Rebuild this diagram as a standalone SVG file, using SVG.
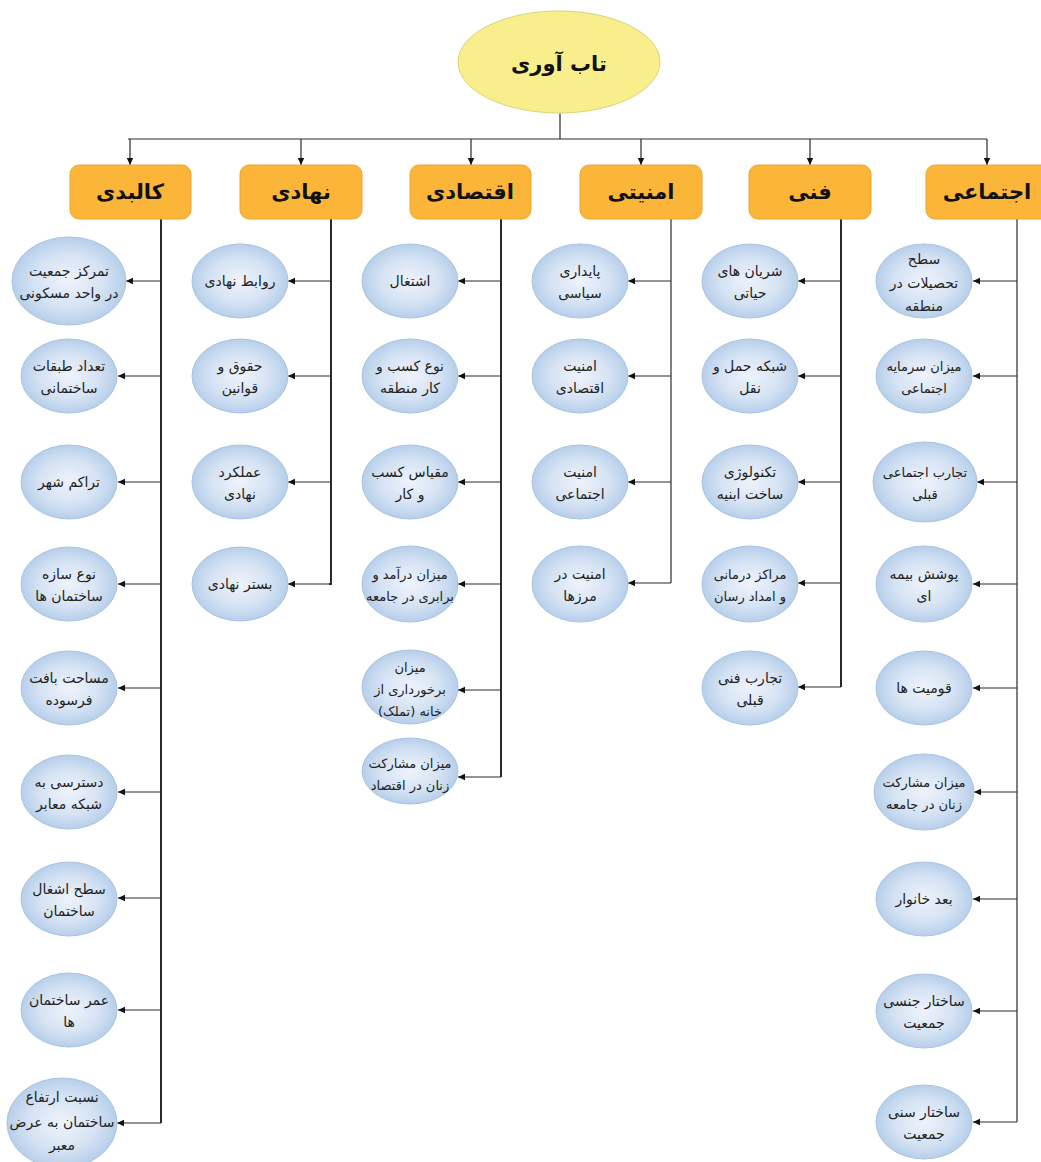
<svg xmlns="http://www.w3.org/2000/svg" width="1041" height="1162" viewBox="0 0 1041 1162">
<defs>
<radialGradient id="gb" cx="50%" cy="50%" r="50%">
<stop offset="0" stop-color="#eef3fb"/>
<stop offset="0.6" stop-color="#d6e3f4"/>
<stop offset="1" stop-color="#b7cfea"/>
</radialGradient>
<marker id="ar" markerUnits="userSpaceOnUse" markerWidth="8" markerHeight="8" refX="7" refY="4" orient="auto">
<path d="M0,0.8 L7,4 L0,7.2 Z" fill="#111"/>
</marker>
<style>
.c{fill:none;stroke:#2a2a2a;stroke-width:1.2}
.t{fill:none;stroke:#2a2a2a;stroke-width:2}
.e{fill:url(#gb);stroke:#a9c3e2;stroke-width:1}
.b{fill:#fbb63a;stroke:#eaa62e;stroke-width:1}
.bt{font-family:"DejaVu Sans",sans-serif;font-weight:bold;font-size:21px;fill:#111;text-anchor:middle}
.lt{font-family:"DejaVu Sans",sans-serif;font-size:14px;fill:#222;text-anchor:middle}
.sm{font-size:13px}
</style>
</defs>
<rect width="1041" height="1162" fill="#fff"/>

<g id="connectors">
<path class="c" d="M560,112 V139 M128,139 H987"/>
<path class="c" marker-end="url(#ar)" d="M130,139 V165"/>
<path class="c" marker-end="url(#ar)" d="M301,139 V165"/>
<path class="c" marker-end="url(#ar)" d="M471,139 V165"/>
<path class="c" marker-end="url(#ar)" d="M641,139 V165"/>
<path class="c" marker-end="url(#ar)" d="M810,139 V165"/>
<path class="c" marker-end="url(#ar)" d="M987,139 V165"/>
<path class="t" d="M161,219 V1123"/>
<path class="t" d="M331,219 V584 H329"/>
<path class="t" d="M501,219 V777"/>
<path class="c" d="M671,219 V583"/>
<path class="t" d="M841,219 V687"/>
<path class="c" d="M1017,219 V1122"/>
<path class="c" marker-end="url(#ar)" d="M161,281 H126"/>
<path class="c" marker-end="url(#ar)" d="M161,376 H118"/>
<path class="c" marker-end="url(#ar)" d="M161,482 H118"/>
<path class="c" marker-end="url(#ar)" d="M161,584 H118"/>
<path class="c" marker-end="url(#ar)" d="M161,688 H118"/>
<path class="c" marker-end="url(#ar)" d="M161,792 H118"/>
<path class="c" marker-end="url(#ar)" d="M161,898 H118"/>
<path class="c" marker-end="url(#ar)" d="M161,1010 H118"/>
<path class="c" marker-end="url(#ar)" d="M161,1123 H117"/>
<path class="c" marker-end="url(#ar)" d="M331,281 H288"/>
<path class="c" marker-end="url(#ar)" d="M331,376 H288"/>
<path class="c" marker-end="url(#ar)" d="M331,482 H288"/>
<path class="c" marker-end="url(#ar)" d="M331,584 H288"/>
<path class="c" marker-end="url(#ar)" d="M501,281 H458"/>
<path class="c" marker-end="url(#ar)" d="M501,376 H458"/>
<path class="c" marker-end="url(#ar)" d="M501,482 H458"/>
<path class="c" marker-end="url(#ar)" d="M501,584 H458"/>
<path class="c" marker-end="url(#ar)" d="M501,690 H458"/>
<path class="c" marker-end="url(#ar)" d="M501,777 H458"/>
<path class="c" marker-end="url(#ar)" d="M671,281 H628"/>
<path class="c" marker-end="url(#ar)" d="M671,376 H628"/>
<path class="c" marker-end="url(#ar)" d="M671,482 H628"/>
<path class="c" marker-end="url(#ar)" d="M671,583 H628"/>
<path class="c" marker-end="url(#ar)" d="M841,281 H798"/>
<path class="c" marker-end="url(#ar)" d="M841,376 H798"/>
<path class="c" marker-end="url(#ar)" d="M841,482 H798"/>
<path class="c" marker-end="url(#ar)" d="M841,583 H798"/>
<path class="c" marker-end="url(#ar)" d="M841,687 H798"/>
<path class="c" marker-end="url(#ar)" d="M1017,281 H973"/>
<path class="c" marker-end="url(#ar)" d="M1017,376 H973"/>
<path class="c" marker-end="url(#ar)" d="M1017,482 H977"/>
<path class="c" marker-end="url(#ar)" d="M1017,584 H973"/>
<path class="c" marker-end="url(#ar)" d="M1017,688 H973"/>
<path class="c" marker-end="url(#ar)" d="M1017,792 H974"/>
<path class="c" marker-end="url(#ar)" d="M1017,899 H973"/>
<path class="c" marker-end="url(#ar)" d="M1017,1011 H973"/>
<path class="c" marker-end="url(#ar)" d="M1017,1122 H973"/>
</g>

<g id="root"><ellipse cx="559" cy="62" rx="101" ry="51" fill="#f8ef8c" stroke="#d8d47a" stroke-width="1"/><text class="bt" x="559" y="71" font-size="25">تاب آوری</text></g>

<g id="cat-kalbadi"><rect class="b" x="70" y="165" width="121" height="54" rx="9"/><text class="bt" x="130" y="199">کالبدی</text></g>
<g id="cat-nahadi"><rect class="b" x="240" y="165" width="122" height="54" rx="9"/><text class="bt" x="301" y="199">نهادی</text></g>
<g id="cat-eqtesadi"><rect class="b" x="410" y="165" width="121" height="54" rx="9"/><text class="bt" x="470" y="199">اقتصادی</text></g>
<g id="cat-amniati"><rect class="b" x="580" y="165" width="122" height="54" rx="9"/><text class="bt" x="641" y="199">امنیتی</text></g>
<g id="cat-fanni"><rect class="b" x="749" y="165" width="122" height="54" rx="9"/><text class="bt" x="810" y="199">فنی</text></g>
<g id="cat-ejtemaei"><rect class="b" x="926" y="165" width="124" height="54" rx="9"/><text class="bt" x="987" y="199">اجتماعی</text></g>

<g id="k1"><ellipse class="e" cx="69" cy="281" rx="57" ry="44"/><text class="lt"><tspan x="69" y="276">تمرکز جمعیت</tspan><tspan x="69" y="298">در واحد مسکونی</tspan></text></g>
<g id="k2"><ellipse class="e" cx="69" cy="376" rx="48" ry="37"/><text class="lt"><tspan x="69" y="371">تعداد طبقات</tspan><tspan x="69" y="393">ساختمانی</tspan></text></g>
<g id="k3"><ellipse class="e" cx="69" cy="482" rx="48" ry="37"/><text class="lt" x="69" y="487">تراکم شهر</text></g>
<g id="k4"><ellipse class="e" cx="69" cy="584" rx="48" ry="37"/><text class="lt"><tspan x="69" y="579">نوع سازه</tspan><tspan x="69" y="601">ساختمان ها</tspan></text></g>
<g id="k5"><ellipse class="e" cx="69" cy="688" rx="48" ry="37"/><text class="lt"><tspan x="69" y="683">مساحت بافت</tspan><tspan x="69" y="705">فرسوده</tspan></text></g>
<g id="k6"><ellipse class="e" cx="69" cy="792" rx="48" ry="37"/><text class="lt"><tspan x="69" y="787">دسترسی به</tspan><tspan x="69" y="809">شبکه معابر</tspan></text></g>
<g id="k7"><ellipse class="e" cx="69" cy="899" rx="48" ry="37"/><text class="lt"><tspan x="69" y="894">سطح اشغال</tspan><tspan x="69" y="916">ساختمان</tspan></text></g>
<g id="k8"><ellipse class="e" cx="69" cy="1010" rx="48" ry="37"/><text class="lt"><tspan x="69" y="1005">عمر ساختمان</tspan><tspan x="69" y="1027">ها</tspan></text></g>
<g id="k9"><ellipse class="e" cx="62" cy="1123" rx="55" ry="45"/><text class="lt"><tspan x="62" y="1102">نسبت ارتفاع</tspan><tspan x="62" y="1127">ساختمان به عرض</tspan><tspan x="62" y="1150">معبر</tspan></text></g>

<g id="n1"><ellipse class="e" cx="240" cy="281" rx="48" ry="37"/><text class="lt" x="240" y="286">روابط نهادی</text></g>
<g id="n2"><ellipse class="e" cx="240" cy="376" rx="48" ry="37"/><text class="lt"><tspan x="240" y="371">حقوق و</tspan><tspan x="240" y="393">قوانین</tspan></text></g>
<g id="n3"><ellipse class="e" cx="240" cy="482" rx="48" ry="37"/><text class="lt"><tspan x="240" y="477">عملکرد</tspan><tspan x="240" y="499">نهادی</tspan></text></g>
<g id="n4"><ellipse class="e" cx="240" cy="584" rx="48" ry="37"/><text class="lt" x="240" y="589">بستر نهادی</text></g>

<g id="q1"><ellipse class="e" cx="410" cy="281" rx="48" ry="37"/><text class="lt" x="410" y="286">اشتغال</text></g>
<g id="q2"><ellipse class="e" cx="410" cy="376" rx="48" ry="37"/><text class="lt"><tspan x="410" y="371">نوع کسب و</tspan><tspan x="410" y="393">کار منطقه</tspan></text></g>
<g id="q3"><ellipse class="e" cx="410" cy="482" rx="48" ry="37"/><text class="lt"><tspan x="410" y="477">مقیاس کسب</tspan><tspan x="410" y="499">و کار</tspan></text></g>
<g id="q4"><ellipse class="e" cx="410" cy="584" rx="48" ry="38"/><text class="lt sm"><tspan x="410" y="579">میزان درآمد و</tspan><tspan x="410" y="601">برابری در جامعه</tspan></text></g>
<g id="q5"><ellipse class="e" cx="410" cy="687" rx="48" ry="37"/><text class="lt sm"><tspan x="410" y="672">میزان</tspan><tspan x="410" y="694">برخورداری از</tspan><tspan x="410" y="716">خانه (تملک)</tspan></text></g>
<g id="q6"><ellipse class="e" cx="410" cy="771" rx="48" ry="33"/><text class="lt sm"><tspan x="410" y="768">میزان مشارکت</tspan><tspan x="410" y="790">زنان در اقتصاد</tspan></text></g>

<g id="a1"><ellipse class="e" cx="580" cy="281" rx="48" ry="37"/><text class="lt"><tspan x="580" y="276">پایداری</tspan><tspan x="580" y="298">سیاسی</tspan></text></g>
<g id="a2"><ellipse class="e" cx="580" cy="376" rx="48" ry="37"/><text class="lt"><tspan x="580" y="371">امنیت</tspan><tspan x="580" y="393">اقتصادی</tspan></text></g>
<g id="a3"><ellipse class="e" cx="580" cy="482" rx="48" ry="37"/><text class="lt"><tspan x="580" y="477">امنیت</tspan><tspan x="580" y="499">اجتماعی</tspan></text></g>
<g id="a4"><ellipse class="e" cx="580" cy="584" rx="48" ry="38"/><text class="lt"><tspan x="580" y="579">امنیت در</tspan><tspan x="580" y="601">مرزها</tspan></text></g>

<g id="f1"><ellipse class="e" cx="750" cy="281" rx="48" ry="37"/><text class="lt"><tspan x="750" y="276">شریان های</tspan><tspan x="750" y="298">حیاتی</tspan></text></g>
<g id="f2"><ellipse class="e" cx="750" cy="376" rx="48" ry="37"/><text class="lt"><tspan x="750" y="371">شبکه حمل و</tspan><tspan x="750" y="393">نقل</tspan></text></g>
<g id="f3"><ellipse class="e" cx="750" cy="482" rx="48" ry="37"/><text class="lt"><tspan x="750" y="477">تکنولوژی</tspan><tspan x="750" y="499">ساخت ابنیه</tspan></text></g>
<g id="f4"><ellipse class="e" cx="750" cy="584" rx="48" ry="38"/><text class="lt sm"><tspan x="750" y="579">مراکز درمانی</tspan><tspan x="750" y="601">و امداد رسان</tspan></text></g>
<g id="f5"><ellipse class="e" cx="750" cy="688" rx="48" ry="37"/><text class="lt"><tspan x="750" y="683">تجارب فنی</tspan><tspan x="750" y="705">قبلی</tspan></text></g>

<g id="j1"><ellipse class="e" cx="924" cy="281" rx="48" ry="37"/><text class="lt"><tspan x="924" y="264">سطح</tspan><tspan x="924" y="288">تحصیلات در</tspan><tspan x="924" y="311">منطقه</tspan></text></g>
<g id="j2"><ellipse class="e" cx="924" cy="376" rx="48" ry="37"/><text class="lt sm"><tspan x="924" y="371">میزان سرمایه</tspan><tspan x="924" y="393">اجتماعی</tspan></text></g>
<g id="j3"><ellipse class="e" cx="925" cy="482" rx="52" ry="40"/><text class="lt sm"><tspan x="925" y="477">تجارب اجتماعی</tspan><tspan x="925" y="499">قبلی</tspan></text></g>
<g id="j4"><ellipse class="e" cx="924" cy="584" rx="48" ry="38"/><text class="lt"><tspan x="924" y="579">پوشش بیمه</tspan><tspan x="924" y="601">ای</tspan></text></g>
<g id="j5"><ellipse class="e" cx="924" cy="688" rx="48" ry="37"/><text class="lt" x="924" y="693">قومیت ها</text></g>
<g id="j6"><ellipse class="e" cx="924" cy="792" rx="50" ry="38"/><text class="lt sm"><tspan x="924" y="787">میزان مشارکت</tspan><tspan x="924" y="809">زنان در جامعه</tspan></text></g>
<g id="j7"><ellipse class="e" cx="924" cy="899" rx="48" ry="37"/><text class="lt" x="924" y="904">بعد خانوار</text></g>
<g id="j8"><ellipse class="e" cx="924" cy="1011" rx="48" ry="37"/><text class="lt"><tspan x="924" y="1006">ساختار جنسی</tspan><tspan x="924" y="1028">جمعیت</tspan></text></g>
<g id="j9"><ellipse class="e" cx="924" cy="1122" rx="48" ry="37"/><text class="lt"><tspan x="924" y="1117">ساختار سنی</tspan><tspan x="924" y="1139">جمعیت</tspan></text></g>
</svg>
